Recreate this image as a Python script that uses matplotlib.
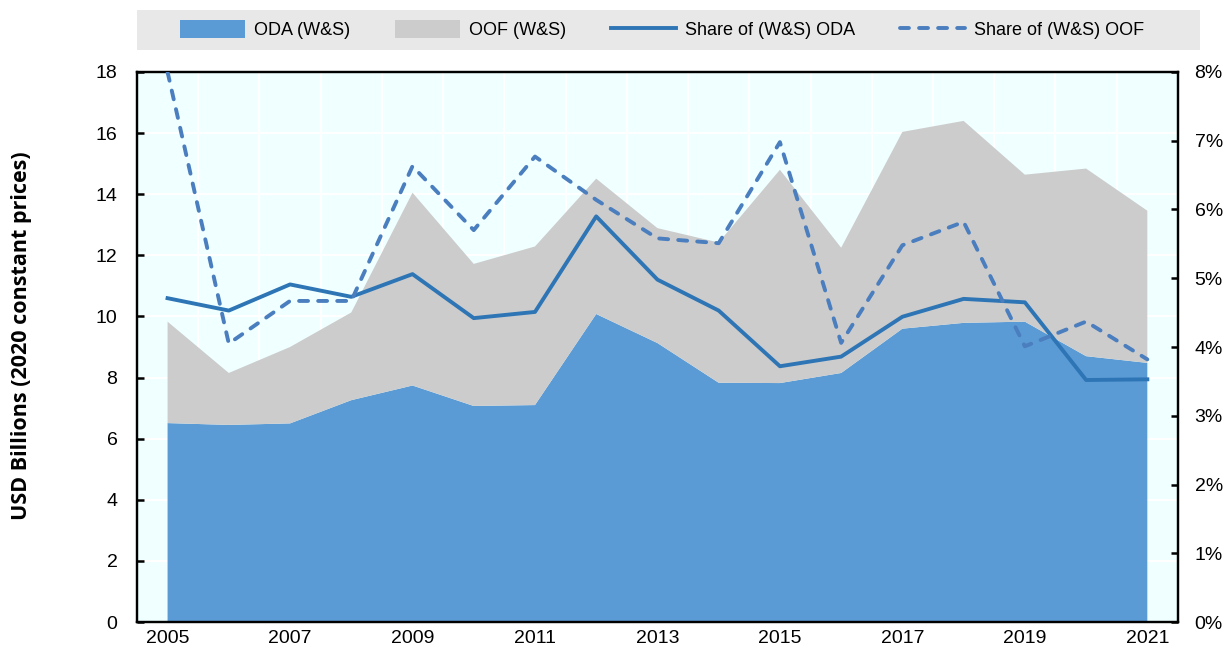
import matplotlib.pyplot as plt
import numpy as np
from matplotlib.patches import Rectangle
from matplotlib.lines import Line2D
from matplotlib.patches import Patch

years = list(range(2005, 2022))
oda = [6.51, 6.45, 6.50, 7.26, 7.74, 7.07, 7.10, 10.08, 9.13, 7.83, 7.82, 8.15, 9.60, 9.79, 9.83, 8.70, 8.48]
total = [9.83, 8.15, 9.00, 10.13, 14.05, 11.72, 12.29, 14.51, 12.89, 12.42, 14.80, 12.25, 16.04, 16.40, 14.64, 14.84, 13.46]
oof = [t - o for t, o in zip(total, oda)]
share_oda = [4.71, 4.53, 4.91, 4.73, 5.06, 4.42, 4.51, 5.90, 4.98, 4.53, 3.72, 3.86, 4.44, 4.70, 4.65, 3.52, 3.53]
share_oof = [8.00, 4.05, 4.67, 4.67, 6.63, 5.70, 6.77, 6.14, 5.58, 5.51, 6.98, 4.06, 5.48, 5.82, 4.01, 4.37, 3.82]

c_oda = '#5B9BD5'
c_oof = '#CCCCCC'
c_line = '#2E75B6'
c_dash = '#4A7EBE'

plt.rcParams['font.family'] = ['Liberation Sans Narrow', 'Liberation Sans', 'DejaVu Sans']

fig = plt.figure(figsize=(12.26, 6.48), dpi=100)
ax = fig.add_axes([0.1117, 0.0401, 0.8491, 0.8488])
ax.set_facecolor('#F0FFFF')

ax.stackplot(years, oda, oof, colors=[c_oda, c_oof], zorder=2, linewidth=0)
ax.set_xlim(2004.5, 2021.5)
ax.set_ylim(0, 18)
ax.set_yticks(range(0, 19, 2))
ax.set_xticks(range(2005, 2022, 2))
ax.set_xticks(np.arange(2005.5, 2021, 1), minor=True)
ax.tick_params(axis='x', which='major', length=0, labelsize=14, pad=6)
ax.tick_params(axis='x', which='minor', direction='in', length=5, width=1.8)
ax.tick_params(axis='y', direction='in', length=5, width=1.8, labelsize=14, pad=14)
ax.grid(True, axis='y', which='major', color='white', linewidth=1.5, zorder=1)
ax.grid(True, axis='x', which='minor', color='white', linewidth=1.5, zorder=1)
ax.set_axisbelow(True)
for s in ax.spines.values():
    s.set_linewidth(1.6)
    s.set_color('black')

ax.set_ylabel('USD Billions (2020 constant prices)', family='Open Sans', fontweight='bold',
              fontsize=15.5)
ax.yaxis.set_label_coords(-0.101, 0.52)

ax2 = ax.twinx()
ax2.plot(years, share_oda, color=c_line, linewidth=2.8, zorder=3)
ax2.plot(years, share_oof, color=c_dash, linewidth=2.8, dashes=(2.3, 2.6),
         dash_capstyle='round', zorder=3)
ax2.set_ylim(0, 8)
ax2.set_yticks(range(0, 9))
ax2.set_yticklabels([f'{v}%' for v in range(0, 9)])
ax2.tick_params(axis='y', direction='in', length=5, width=1.8, labelsize=14, pad=12)
for s in ax2.spines.values():
    s.set_linewidth(1.6)

# legend box
fig.patches.append(Rectangle((0.1117, 0.9228), 0.8671, 0.0618, transform=fig.transFigure,
                             facecolor='#E8E8E8', edgecolor='none', zorder=0))
handles = [Patch(facecolor=c_oda, edgecolor='none'),
           Patch(facecolor=c_oof, edgecolor='none'),
           Line2D([], [], color=c_line, linewidth=2.8),
           Line2D([], [], color=c_dash, linewidth=2.8, dashes=(2.3, 2.6), dash_capstyle='round')]
labels = ['ODA (W&S)', 'OOF (W&S)', 'Share of (W&S) ODA', 'Share of (W&S) OOF']
fig.legend(handles, labels, loc='center', bbox_to_anchor=(0.540, 0.954), ncol=4,
           frameon=False, fontsize=13, handlelength=3.6, handleheight=1.1,
           columnspacing=2.5, handletextpad=0.5)

fig.savefig('out.png', dpi=100)
